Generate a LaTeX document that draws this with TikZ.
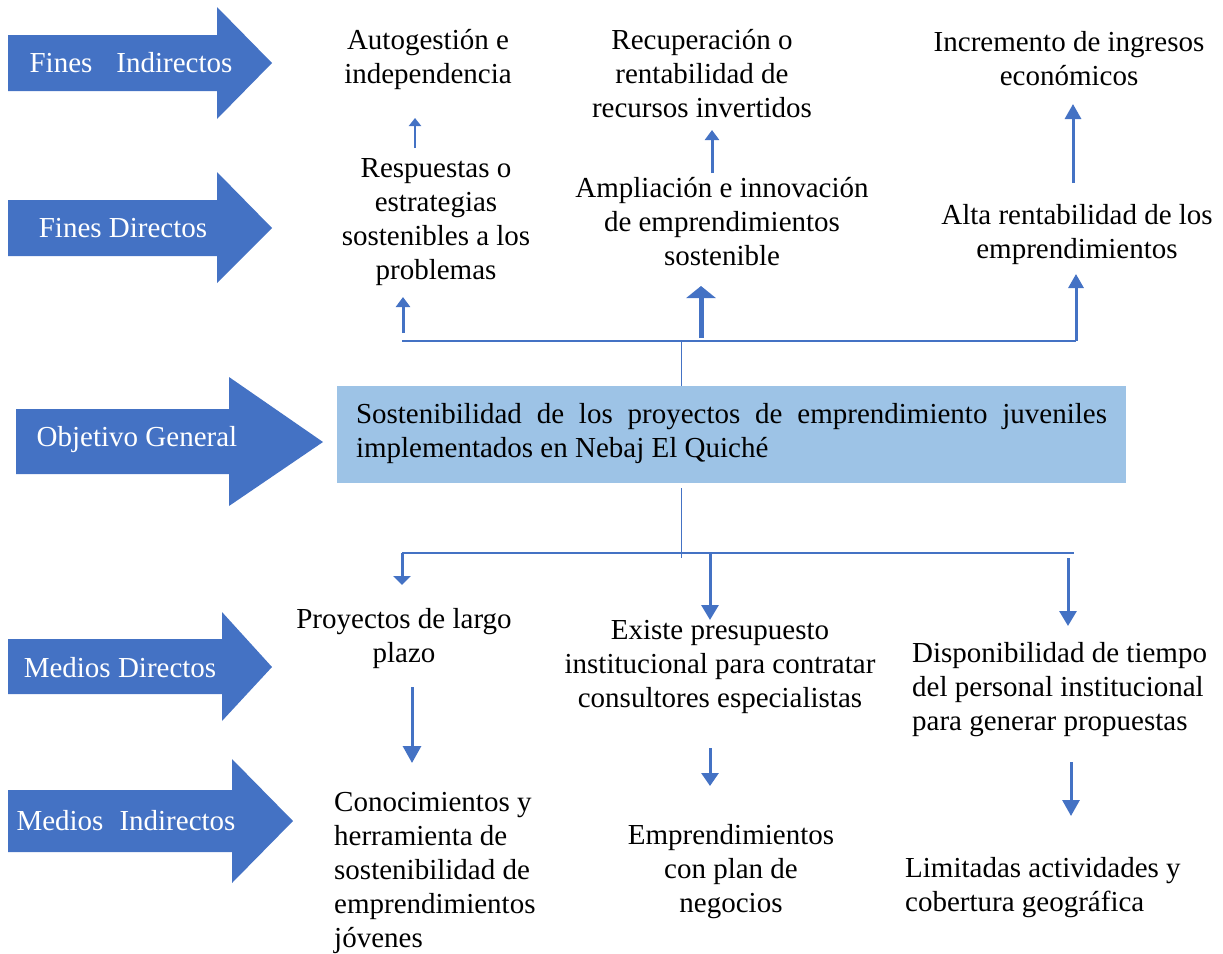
\documentclass[tikz,border=0pt]{standalone}
\usepackage{fontspec}
\setmainfont{Liberation Serif}
\usetikzlibrary{arrows.meta}
\definecolor{blu}{HTML}{4472C4}
\definecolor{boxblue}{HTML}{9DC3E6}
\begin{document}
\begin{tikzpicture}[x=1pt,y=-1pt,
  txt/.style={font=\fontsize{29}{34}\selectfont, inner sep=0pt, align=center, yshift=-3pt},
  ltxt/.style={txt, align=left},
  lbl/.style={font=\fontsize{29}{34}\selectfont, inner sep=0pt, text=white},
  blockarrow/.style={fill=blu},
  conn/.style={draw=blu, line width=1.5pt},
  thinconn/.style={draw=blu, line width=1pt},
  arr/.style n args={3}{draw=blu, line width=#1, -{Triangle[width=#2,length=#3]}},
]
\useasboundingbox (0,0) rectangle (1223,953);

% ---- block arrows on the left ----
\fill[blockarrow] (8,35) -- (217,35) -- (217,7) -- (272,63) -- (217,119) -- (217,91) -- (8,91) -- cycle;
\node[lbl] (fi) at (131,63) {Fines\hspace*{24pt}Indirectos};
\fill[blockarrow] (8,200) -- (217,200) -- (217,172) -- (272,228) -- (217,283) -- (217,256) -- (8,256) -- cycle;
\node[lbl] (fd) at (123,228) {Fines Directos};
\fill[blockarrow] (16,409) -- (229,409) -- (229,377) -- (323,442) -- (229,506) -- (229,474) -- (16,474) -- cycle;
\node[lbl] (og) at (137,440) {Objetivo General};
\fill[blockarrow] (8,639) -- (222,639) -- (222,612) -- (272,667) -- (222,721) -- (222,694) -- (8,694) -- cycle;
\node[lbl] (md) at (120,668) {Medios Directos};
\fill[blockarrow] (8,790) -- (232,790) -- (232,759) -- (293,821) -- (232,883) -- (232,852) -- (8,852) -- cycle;
\node[lbl] (mi) at (126,821) {Medios\hspace*{16pt}Indirectos};

% ---- central objective ----
\node[fill=boxblue, minimum width=789pt, minimum height=97pt, inner sep=0pt] (obj) at (731.5,434.5) {};
\node[txt, text width=751pt, align=justify] (objt) at (731.5,431) {Sostenibilidad de los proyectos de emprendimiento juveniles \mbox{implementados} en Nebaj El Quiché};

% ---- fines indirectos ----
\node[txt] (a1) at (428,57) {Autogestión e\\independencia};
\node[txt] (a2) at (702,71) {Recuperación o\\rentabilidad de\\recursos invertidos};
\node[txt] (a3) at (1069,56) {Incremento de ingresos\\económicos};

% ---- fines directos ----
\node[txt] (b1) at (436,219) {Respuestas o\\estrategias\\sostenibles a los\\problemas};
\node[txt] (b2) at (722,219) {Ampliación e innovación\\de emprendimientos\\sostenible};
\node[txt] (b3) at (1077,232) {Alta rentabilidad de los\\emprendimientos};

% ---- medios directos ----
\node[txt] (c1) at (404,636) {Proyectos de largo\\plazo};
\node[txt] (c2) at (720,664) {Existe presupuesto\\institucional para contratar\\consultores especialistas};
\node[ltxt, anchor=west] (c3) at (912,687) {Disponibilidad de tiempo\\del personal institucional\\para generar propuestas};

% ---- medios indirectos ----
\node[ltxt, anchor=west] (d1) at (334,870) {Conocimientos y\\herramienta de\\sostenibilidad de\\emprendimientos\\jóvenes};
\node[txt] (d2) at (731,869) {Emprendimientos\\con plan de\\negocios};
\node[ltxt, anchor=west] (d3) at (905,885) {Limitadas actividades y\\cobertura geográfica};

% ---- upper connector ----
\coordinate (tj) at (681,341);
\coordinate (tl) at (402,341);
\coordinate (tr) at (1076,341);
\draw[thinconn] (obj.north -| tj) -- (tj);
\draw[conn] (tl) -- (tr);
\coordinate (b1s) at (403,333); \coordinate (b1t) at (403,297);
\draw[arr={3pt}{14pt}{10pt}] (b1s) -- (b1t);
\coordinate (b2s) at (701,338); \coordinate (b2t) at (701,286);
\draw[arr={5pt}{29pt}{12pt}] (b2s) -- (b2t);
\coordinate (b3t) at (1076,274);
\draw[arr={3pt}{15pt}{14pt}] (tr) -- (b3t);

% ---- fines directos -> fines indirectos ----
\coordinate (u1s) at (415,148); \coordinate (u1t) at (415,118);
\draw[arr={2.5pt}{12pt}{8pt}] (u1s) -- (u1t);
\coordinate (u2s) at (712,173); \coordinate (u2t) at (712,130);
\draw[arr={3pt}{14pt}{10pt}] (u2s) -- (u2t);
\coordinate (u3s) at (1073,183); \coordinate (u3t) at (1073,104);
\draw[arr={3pt}{16pt}{15pt}] (u3s) -- (u3t);

% ---- lower connector ----
\coordinate (bj) at (681,558);
\coordinate (bl) at (402,553);
\coordinate (br) at (1074,553);
\coordinate (bjs) at (681,488);
\draw[thinconn] (bjs) -- (bj);
\draw[conn] (bl) -- (br);
\coordinate (c1t) at (402,585);
\draw[arr={3pt}{17pt}{9pt}] (bl) -- (c1t);
\coordinate (c2s) at (710,553); \coordinate (c2t) at (710,620);
\draw[arr={3pt}{17pt}{15pt}] (c2s) -- (c2t);
\coordinate (c3s) at (1068,558); \coordinate (c3t) at (1068,626);
\draw[arr={3pt}{17pt}{15pt}] (c3s) -- (c3t);

% ---- medios directos -> medios indirectos ----
\coordinate (l1s) at (412,687); \coordinate (l1t) at (412,763);
\draw[arr={3pt}{18pt}{17pt}] (l1s) -- (l1t);
\coordinate (l2s) at (710,748); \coordinate (l2t) at (710,786);
\draw[arr={3pt}{17pt}{13pt}] (l2s) -- (l2t);
\coordinate (l3s) at (1071,762); \coordinate (l3t) at (1071,816);
\draw[arr={3pt}{17pt}{16pt}] (l3s) -- (l3t);
\end{tikzpicture}
\end{document}
